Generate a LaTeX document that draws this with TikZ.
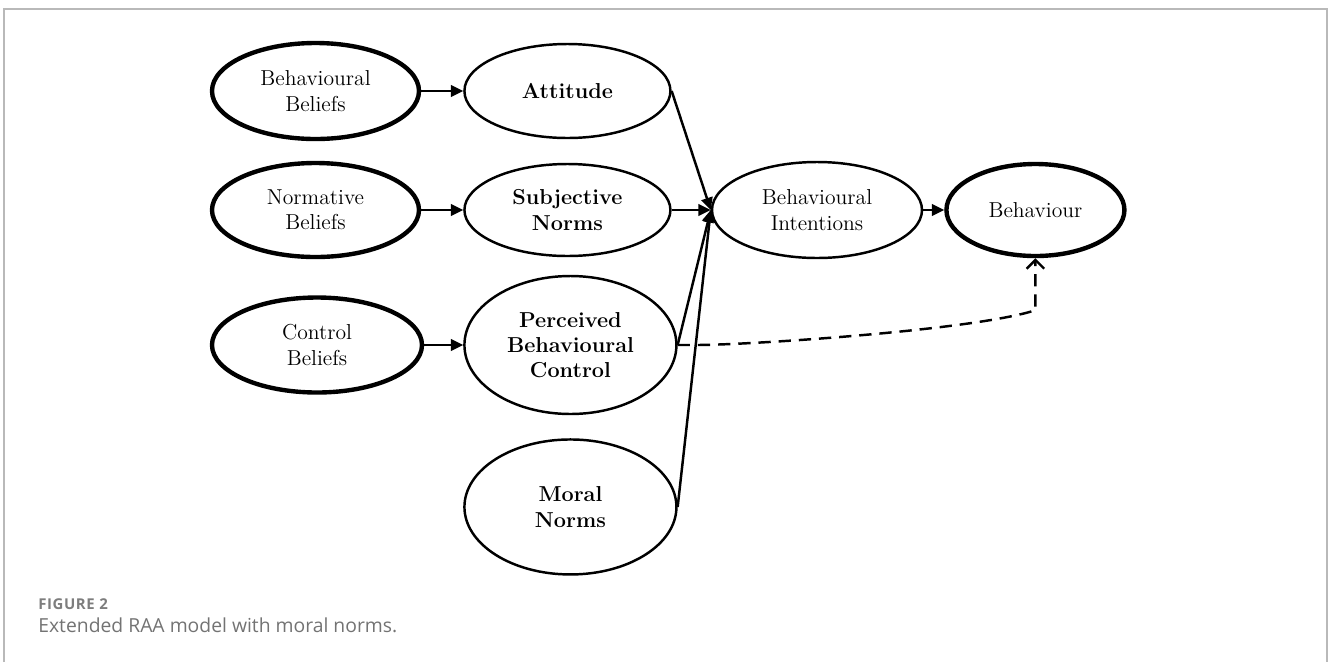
\documentclass[tikz,border=0pt]{standalone}
\usepackage{fontspec}
\usepackage{xcolor}
\usepackage{tikz}
\usetikzlibrary{shapes.geometric, positioning, arrows.meta, calc}
\newfontfamily\capfont{Open Sans}
\definecolor{framegray}{RGB}{185,185,185}
\definecolor{capgray}{RGB}{115,115,115}
\definecolor{figgray}{RGB}{125,125,125}

\begin{document}
\begin{tikzpicture}[
        ell/.style={draw, ellipse, inner sep=0pt, align=center, line width=1.4pt, font=\fontsize{12.3}{14.4}\selectfont},
        thickell/.style={ell, line width=2.5pt},
        arr/.style={-{Triangle[length=7pt, width=6.5pt]}, line width=1.4pt},
        dasharr/.style={-{Straight Barb[length=5pt, width=10pt]}, line width=1.4pt, dash pattern=on 7pt off 4.5pt}
    ]
    \useasboundingbox (0,0) rectangle (26.56,-13.24);

    % Frame
    \draw[framegray, line width=1.1pt] (0.08,-13.24) -- (0.08,-0.18) -- (26.54,-0.18) -- (26.54,-13.24);

    % Beliefs
    \node[thickell, minimum width=4.14cm, minimum height=1.92cm] (bb) at (6.31,-1.82) {Behavioural\\Beliefs};
    \node[thickell, minimum width=4.14cm, minimum height=1.88cm] (nb) at (6.31,-4.2) {Normative\\Beliefs};
    \node[thickell, minimum width=4.2cm, minimum height=1.9cm] (cb) at (6.34,-6.9) {Control\\Beliefs};

    % Determinants
    \node[ell, minimum width=4.12cm, minimum height=1.88cm] (att) [right=0.84cm of bb] {\textbf{Attitude}};
    \node[ell, minimum width=4.12cm, minimum height=1.84cm] (sn) [right=0.84cm of nb] {\textbf{Subjective}\\\textbf{Norms}};
    \node[ell, minimum width=4.24cm, minimum height=2.76cm] (pbc) [right=0.78cm of cb] {\textbf{Perceived}\\\textbf{Behavioural}\\\textbf{Control}};
    \node[ell, minimum width=4.24cm, minimum height=2.7cm] (mn) [below=0.46cm of pbc] {\textbf{Moral}\\\textbf{Norms}};

    % Intention and behaviour
    \node[ell, minimum width=4.2cm, minimum height=1.92cm] (bi) at (16.34,-4.2) {Behavioural\\Intentions};
    \node[thickell, minimum width=3.56cm, minimum height=1.84cm] (beh) [right=0.42cm of bi] {Behaviour};
    \coordinate (bend) at ($(beh.south)+(0,-1.04)$);

    % Arrows
    \draw[arr] (bb) -- (att);
    \draw[arr] (nb) -- (sn);
    \draw[arr] (cb) -- (pbc);
    \draw[arr] (att.east) -- (bi.west);
    \draw[arr] (sn.east) -- (bi.west);
    \draw[arr] (pbc.east) -- (bi.west);
    \draw[arr] (mn.east) -- (bi.west);
    \draw[arr] (bi) -- (beh);
    \draw[dasharr] (pbc.east) -- ++(0.36,0) .. controls (15,-6.9) and (19.5,-6.6) .. (bend) -- (beh.south);

    % Caption
    \node[anchor=west, text=figgray, font=\capfont\bfseries\fontsize{8.5}{10}\selectfont\addfontfeature{LetterSpace=4}, inner sep=0pt] (fig) at (0.76,-12.08) {FIGURE 2};
    \node[anchor=west, text=capgray, font=\capfont\fontsize{11}{13}\selectfont, inner sep=0pt] (cap) at (0.76,-12.5) {Extended RAA model with moral norms.};

\end{tikzpicture}
\end{document}
